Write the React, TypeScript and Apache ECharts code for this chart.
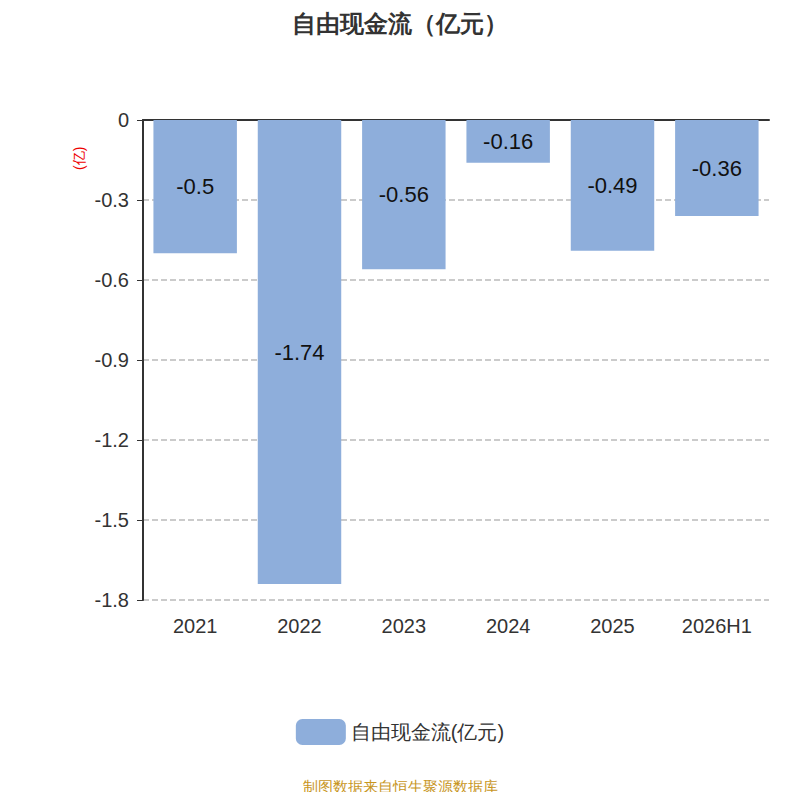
import React, { useEffect, useRef } from "react";
import * as echarts from "echarts";

const categories = ["2021", "2022", "2023", "2024", "2025", "2026H1"];
const values = [-0.5, -1.74, -0.56, -0.16, -0.49, -0.36];
const seriesName = "自由现金流(亿元)";

export default function App() {
  const ref = useRef<HTMLDivElement>(null);
  useEffect(() => {
    const chart = echarts.init(ref.current!, null, { renderer: "svg" });
    chart.setOption({
      animation: false,
      title: {
        text: "自由现金流（亿元）",
        left: "center",
        top: 6,
        textStyle: { fontSize: 24, fontWeight: "bold", color: "#333" },
      },
      grid: { left: 143, right: 31, top: 120, bottom: 200 },
      legend: {
        bottom: 50,
        itemWidth: 50,
        itemHeight: 26,
        textStyle: { fontSize: 20, color: "#333" },
        data: [seriesName],
      },
      graphic: [
        {
          type: "text",
          left: "center",
          top: 779,
          style: { text: "制图数据来自恒生聚源数据库", fill: "#c8961e", fontSize: 15 },
        },
        {
          type: "text",
          x: 72,
          y: 170,
          rotation: Math.PI / 2,
          style: { text: "(亿)", fill: "#e00", fontSize: 14 },
        },
      ],
      xAxis: [
        {
          type: "category",
          data: categories,
          position: "bottom",
          axisLine: { show: false, onZero: false },
          axisTick: { show: false },
          axisLabel: { fontSize: 20, color: "#333", margin: 16 },
        },
        {
          type: "category",
          data: categories,
          position: "top",
          axisLine: { lineStyle: { color: "#333", width: 2 } },
          axisTick: { inside: true, length: 7, lineStyle: { color: "#333", width: 2 } },
          axisLabel: { show: false },
        },
      ],
      yAxis: {
        type: "value",
        min: -1.8,
        max: 0,
        interval: 0.3,
        axisLine: { show: true, lineStyle: { color: "#333", width: 2 } },
        axisTick: { show: true, length: 6 },
        axisLabel: { fontSize: 20, color: "#333", margin: 14 },
        splitLine: { lineStyle: { type: "dashed", color: "#bbb", width: 1.5 } },
      },
      series: [
        {
          name: seriesName,
          type: "bar",
          data: values,
          barWidth: "80%",
          itemStyle: { color: "#8eaedb" },
          label: {
            show: true,
            position: "inside",
            color: "#111",
            fontSize: 22,
          },
        },
      ],
    });
    return () => chart.dispose();
  }, []);
  return <div ref={ref} style={{ width: 800, height: 800, margin: -8 }} />;
}
